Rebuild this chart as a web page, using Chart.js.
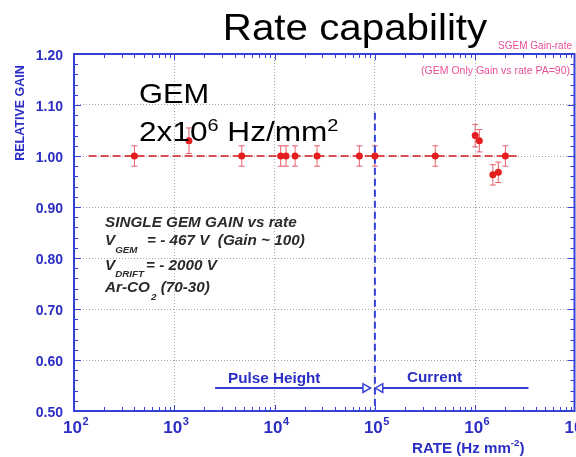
<!DOCTYPE html>
<html>
<head>
<meta charset="utf-8">
<script src="https://cdn.jsdelivr.net/npm/chart.js@4.4.1/dist/chart.umd.min.js"></script>
<style>
html,body{margin:0;padding:0;background:#fff;overflow:hidden;width:576px;height:457px;}
canvas{display:block;}
</style>
</head>
<body>
<canvas id="c" width="582" height="457"></canvas>
<script>
// ---- data ----
const rates   = [400, 1400, 4700, 11500, 13000, 16000, 26500, 70000, 100000, 400000, 1000000, 1100000, 1500000, 1700000, 2000000];
const gains   = [1.00, 1.03, 1.00, 1.00, 1.00, 1.00, 1.00, 1.00, 1.00, 1.00, 1.04, 1.03, 0.963, 0.968, 1.00];
const gainErr = [0.02, 0.025, 0.02, 0.02, 0.02, 0.02, 0.02, 0.02, 0.02, 0.02, 0.022, 0.022, 0.02, 0.02, 0.02];
const refLineX = [140, 2730000];
const refLineY = [1.0, 1.0];
const splitRate = 100000;
const splitLineY = [1.085, 0.5];
const phArrowX = [2550, 80500];
const curArrowX = [3400000, 113000];
const arrowY = 0.545;
const xMin = 100, xMax = 1e7;
const yMin = 0.5, yMax = 1.2, yStep = 0.1, yMinorStep = 0.02;
const xDecades = [2, 3, 4, 5, 6, 7];

const BLUE_TXT = '#2a2ec4';
const BLUE_AX = '#3440d6';
const RED = '#e41e1e';
const GRID = 'rgba(150,150,150,0.85)';
const F = '"Liberation Sans", Arial, Helvetica, sans-serif';

function txt(ctx, s, x, y, font, color, align, sx) {
  ctx.save();
  ctx.font = font; ctx.fillStyle = color; ctx.textBaseline = 'alphabetic';
  ctx.textAlign = align || 'left';
  ctx.translate(x, y); ctx.scale(sx || 1, 1);
  ctx.fillText(s, 0, 0);
  const w = ctx.measureText(s).width * (sx || 1);
  ctx.restore();
  return w;
}
const isDecade = v => Math.abs(Math.log10(v) - Math.round(Math.log10(v))) < 1e-9;

const deco = {
  id: 'deco',
  beforeDatasetsDraw(chart) {
    const ctx = chart.ctx, xs = chart.scales.x, ys = chart.scales.y;
    ctx.save();
    ctx.strokeStyle = 'rgba(228,80,90,0.9)';
    ctx.lineWidth = 1;
    rates.forEach((r, i) => {
      const x = xs.getPixelForValue(r);
      const y1 = ys.getPixelForValue(gains[i] + gainErr[i]);
      const y2 = ys.getPixelForValue(gains[i] - gainErr[i]);
      ctx.beginPath();
      ctx.moveTo(x, y1); ctx.lineTo(x, y2);
      ctx.moveTo(x - 3, y1); ctx.lineTo(x + 3, y1);
      ctx.moveTo(x - 3, y2); ctx.lineTo(x + 3, y2);
      ctx.stroke();
    });
    ctx.restore();
  },
  afterDraw(chart) {
    const ctx = chart.ctx, xs = chart.scales.x, ys = chart.scales.y;
    const a = chart.chartArea;
    ctx.save();
    // minor ticks
    ctx.strokeStyle = BLUE_AX; ctx.lineWidth = 1;
    ctx.beginPath();
    for (let e = 2; e < 7; e++) {
      for (let k = 1; k <= 9; k++) {
        const x = Math.round(xs.getPixelForValue(k * Math.pow(10, e))) + 0.5;
        const L = k === 1 ? 6 : 4;
        ctx.moveTo(x, a.bottom); ctx.lineTo(x, a.bottom - L);
        ctx.moveTo(x, a.top); ctx.lineTo(x, a.top + L);
      }
    }
    const n = Math.round((yMax - yMin) / yMinorStep);
    for (let i = 0; i <= n; i++) {
      const v = yMin + i * yMinorStep;
      const y = Math.round(ys.getPixelForValue(v)) + 0.5;
      const L = (i % 5 === 0) ? 7 : 4;
      ctx.moveTo(a.left, y); ctx.lineTo(a.left + L, y);
      ctx.moveTo(a.right - 1, y); ctx.lineTo(a.right - 1 - L, y);
    }
    ctx.stroke();
    // frame
    ctx.lineWidth = 2;
    ctx.strokeRect(a.left, a.top, a.right - a.left - 1, a.bottom - a.top);
    ctx.restore();

    // x tick labels 10^n
    xDecades.forEach(e => {
      const x = xs.getPixelForValue(Math.pow(10, e));
      const w = txt(ctx, '10', x - 11, 433, 'bold 17px ' + F, BLUE_TXT, 'left', 1);
      txt(ctx, String(e), x - 11 + w + 0.5, 425, 'bold 11px ' + F, BLUE_TXT, 'left', 1);
    });
    // x title
    let xx = 412;
    xx += txt(ctx, 'RATE (Hz mm', xx, 453, 'bold 14px ' + F, BLUE_TXT, 'left', 1.08);
    xx += txt(ctx, '-2', xx, 446, 'bold 9px ' + F, BLUE_TXT, 'left', 1.08);
    txt(ctx, ')', xx, 453, 'bold 14px ' + F, BLUE_TXT, 'left', 1.08);
    // y title
    ctx.save();
    ctx.translate(23.5, 113); ctx.rotate(-Math.PI / 2);
    ctx.font = 'bold 12.5px ' + F; ctx.fillStyle = BLUE_TXT; ctx.textAlign = 'center';
    ctx.fillText('RELATIVE GAIN', 0, 0);
    ctx.restore();

    // slide title and notes
    txt(ctx, 'Rate capability', 355, 40, '36px ' + F, '#000', 'center', 1.12);
    txt(ctx, 'SGEM Gain-rate', 572, 49, '10px ' + F, 'rgb(232,80,150)', 'right', 1);
    txt(ctx, '(GEM Only Gain vs rate PA=90)', 570, 74, '10.5px ' + F, 'rgb(232,80,150)', 'right', 1);
    txt(ctx, 'GEM', 139, 103, '28px ' + F, '#000', 'left', 1.1);
    let gx = 139;
    gx += txt(ctx, '2x10', gx, 141, '27px ' + F, '#000', 'left', 1.17);
    gx += txt(ctx, '6', gx, 131, '17px ' + F, '#000', 'left', 1.17);
    gx += txt(ctx, ' Hz/mm', gx, 141, '27px ' + F, '#000', 'left', 1.17);
    txt(ctx, '2', gx, 131, '17px ' + F, '#000', 'left', 1.17);

    // conditions box
    const DK = '#2b2b2b';
    const bi = 'italic bold 14px ' + F, bs = 'italic bold 9px ' + F;
    txt(ctx, 'SINGLE GEM GAIN vs rate', 105, 227, bi, DK, 'left', 1.09);
    let w = txt(ctx, 'V', 105, 245, bi, DK, 'left', 1.09);
    txt(ctx, 'GEM', 105 + w, 253, bs, DK, 'left', 1.09);
    txt(ctx, '= - 467 V  (Gain ~ 100)', 147, 245, bi, DK, 'left', 1.09);
    w = txt(ctx, 'V', 105, 270, bi, DK, 'left', 1.09);
    txt(ctx, 'DRIFT', 105 + w, 277, bs, DK, 'left', 1.09);
    txt(ctx, '= - 2000 V', 146, 270, bi, DK, 'left', 1.09);
    w = txt(ctx, 'Ar-CO', 105, 292, bi, DK, 'left', 1.09);
    const w2 = txt(ctx, '2', 105 + w + 1, 300, bs, DK, 'left', 1.09);
    txt(ctx, ' (70-30)', 105 + w + 1 + w2, 292, bi, DK, 'left', 1.09);

    // arrow labels
    txt(ctx, 'Pulse Height', 228, 383, 'bold 14px ' + F, BLUE_TXT, 'left', 1.09);
    txt(ctx, 'Current', 407, 382, 'bold 14px ' + F, BLUE_TXT, 'left', 1.09);
  }
};

new Chart(document.getElementById('c'), {
  type: 'scatter',
  data: {
    datasets: [
      {
        label: 'gain',
        data: rates.map((r, i) => ({ x: r, y: gains[i] })),
        backgroundColor: RED, borderColor: RED,
        pointRadius: 3.5, pointBorderWidth: 0
      },
      {
        label: 'ref',
        data: refLineX.map((x, i) => ({ x: x, y: refLineY[i] })),
        showLine: true, borderColor: 'rgba(214,60,60,0.9)', borderWidth: 2,
        borderDash: [8, 4], pointRadius: 0
      },
      {
        label: 'split',
        data: splitLineY.map(y => ({ x: splitRate, y: y })),
        showLine: true, borderColor: BLUE_AX, borderWidth: 2,
        borderDash: [7, 4], pointRadius: 0
      },
      {
        label: 'ph',
        data: phArrowX.map(x => ({ x: x, y: arrowY })),
        showLine: true, borderColor: BLUE_AX, borderWidth: 2,
        pointRadius: [0, 5], pointStyle: 'triangle', rotation: [0, 90],
        pointBackgroundColor: '#fff', pointBorderColor: BLUE_AX, pointBorderWidth: 1.5
      },
      {
        label: 'cur',
        data: curArrowX.map(x => ({ x: x, y: arrowY })),
        showLine: true, borderColor: BLUE_AX, borderWidth: 2,
        pointRadius: [0, 5], pointStyle: 'triangle', rotation: [0, -90],
        pointBackgroundColor: '#fff', pointBorderColor: BLUE_AX, pointBorderWidth: 1.5
      }
    ]
  },
  options: {
    responsive: false,
    animation: false,
    events: [],
    devicePixelRatio: 1,
    layout: { padding: { top: 54, right: 0, left: 0, bottom: 0 } },
    plugins: { legend: { display: false }, tooltip: { enabled: false }, title: { display: false } },
    scales: {
      x: {
        type: 'logarithmic', min: xMin, max: xMax, position: 'bottom',
        ticks: { display: false },
        grid: {
          drawTicks: false,
          color: c => (c.tick && isDecade(c.tick.value) && c.tick.value > xMin && c.tick.value < xMax) ? GRID : 'rgba(0,0,0,0)'
        },
        border: { display: false, dash: [1, 2] },
        afterFit: s => { s.height = 46; }
      },
      y: {
        type: 'linear', min: yMin, max: yMax,
        ticks: {
          stepSize: yStep, padding: 11, labelOffset: 2,
          color: BLUE_TXT, font: { family: F, size: 14, weight: 'bold' },
          callback: v => Number(v).toFixed(2)
        },
        grid: {
          drawTicks: false,
          color: c => (c.tick && Math.abs(c.tick.value - yMin) > 1e-6 && Math.abs(c.tick.value - yMax) > 1e-6) ? GRID : 'rgba(0,0,0,0)'
        },
        border: { display: false, dash: [1, 2] },
        afterFit: s => { s.width = 74; }
      }
    }
  },
  plugins: [deco]
});
</script>
</body>
</html>
